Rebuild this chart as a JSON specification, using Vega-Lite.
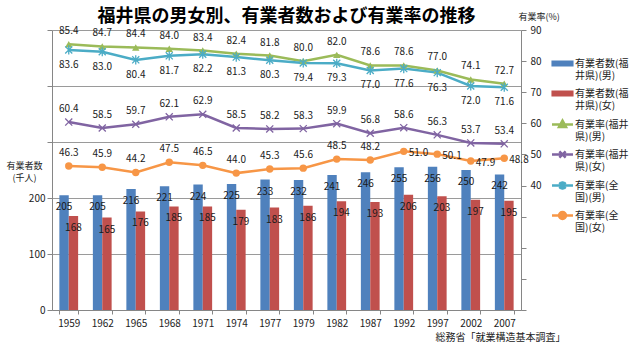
{
  "$schema": "https://vega.github.io/schema/vega-lite/v6.json",
  "width": 469,
  "height": 280,
  "autosize": {"type": "none"},
  "padding": {"left": 52, "top": 30, "right": 119, "bottom": 45},
  "background": "white",
  "title": {
    "text": "福井県の男女別、有業者数および有業率の推移",
    "font": "Noto Sans CJK JP",
    "fontSize": 18,
    "fontWeight": "bold",
    "color": "#000000",
    "anchor": "middle",
    "frame": "group",
    "offset": 4,
    "dy": 18
  },
  "config": {
    "view": {"stroke": null},
    "font": "Noto Sans CJK JP",
    "axis": {
      "labelFont": "Noto Sans CJK JP",
      "labelFontSize": 10,
      "labelColor": "#222222",
      "titleFont": "Noto Sans CJK JP",
      "titleFontWeight": "normal",
      "titleColor": "#222222",
      "domainColor": "#868686",
      "tickColor": "#868686",
      "gridColor": "#9a9a9a"
    }
  },
  "data": {
    "values": [
      {"year": 1959, "bm": 205, "bf": 168, "rm": 85.4, "rf": 60.4, "nm": 83.6, "nf": 46.3},
      {"year": 1962, "bm": 205, "bf": 165, "rm": 84.7, "rf": 58.5, "nm": 83.0, "nf": 45.9},
      {"year": 1965, "bm": 216, "bf": 176, "rm": 84.4, "rf": 59.7, "nm": 80.4, "nf": 44.2},
      {"year": 1968, "bm": 221, "bf": 185, "rm": 84.0, "rf": 62.1, "nm": 81.7, "nf": 47.5},
      {"year": 1971, "bm": 224, "bf": 185, "rm": 83.4, "rf": 62.9, "nm": 82.2, "nf": 46.5},
      {"year": 1974, "bm": 225, "bf": 179, "rm": 82.4, "rf": 58.5, "nm": 81.3, "nf": 44.0},
      {"year": 1977, "bm": 233, "bf": 183, "rm": 81.8, "rf": 58.2, "nm": 80.3, "nf": 45.3},
      {"year": 1979, "bm": 232, "bf": 186, "rm": 80.0, "rf": 58.3, "nm": 79.4, "nf": 45.6},
      {"year": 1982, "bm": 241, "bf": 194, "rm": 82.0, "rf": 59.9, "nm": 79.3, "nf": 48.5},
      {"year": 1987, "bm": 246, "bf": 193, "rm": 78.6, "rf": 56.8, "nm": 77.0, "nf": 48.2},
      {"year": 1992, "bm": 255, "bf": 206, "rm": 78.6, "rf": 58.6, "nm": 77.6, "nf": 51.0},
      {"year": 1997, "bm": 256, "bf": 203, "rm": 77.0, "rf": 56.3, "nm": 76.3, "nf": 50.1},
      {"year": 2002, "bm": 250, "bf": 197, "rm": 74.1, "rf": 53.7, "nm": 72.0, "nf": 47.9},
      {"year": 2007, "bm": 242, "bf": 195, "rm": 72.7, "rf": 53.4, "nm": 71.6, "nf": 48.8}
    ]
  },
  "transform": [{"fold": ["bm", "bf", "rm", "rf", "nm", "nf"], "as": ["key", "value"]}],
  "encoding": {
    "x": {
      "field": "year",
      "type": "ordinal",
      "scale": {"paddingInner": 0.44, "paddingOuter": 0.22},
      "axis": {
        "labelAngle": 0,
        "tickBand": "extent",
        "tickSize": 4,
        "labelPadding": 4,
        "grid": false,
        "title": "総務省「就業構造基本調査」",
        "titleFontSize": 10,
        "titleX": 513,
        "titleY": 27,
        "titleAlign": "right",
        "titleBaseline": "middle",
        "titleAnchor": "end"
      }
    }
  },
  "layer": [
    {
      "encoding": {
        "y": {
          "field": "value",
          "type": "quantitative",
          "scale": {"domain": [0, 500], "nice": false},
          "axis": {
            "orient": "left",
            "values": [0, 100, 200, 300, 400, 500],
            "labelExpr": "datum.value <= 200 ? datum.label : ''",
            "grid": true,
            "tickSize": 5,
            "title": ["有業者数", "(千人)"],
            "titleFontSize": 9,
            "titleAngle": 0,
            "titleAlign": "center",
            "titleBaseline": "middle",
            "titleLineHeight": 12,
            "titleX": -28,
            "titleY": 135
          }
        }
      },
      "layer": [
        {
          "transform": [{"filter": {"field": "key", "oneOf": ["bm", "bf"]}}],
          "mark": {"type": "bar"},
          "encoding": {
            "xOffset": {"field": "key", "type": "nominal", "scale": {"domain": ["bm", "bf"]}},
            "color": {
              "field": "key",
              "type": "nominal",
              "scale": {
                "domain": ["bm", "bf", "rm", "rf", "nm", "nf"],
                "range": ["#4F81BD", "#C0504D", "#9BBB59", "#8064A2", "#4BACC6", "#F79646"]
              }
            }
          }
        },
        {
          "transform": [{"filter": {"field": "key", "oneOf": ["bm", "bf"]}}],
          "mark": {"type": "text", "dy": 12, "fontSize": 10, "color": "#1a1a1a", "font": "Noto Sans CJK JP"},
          "encoding": {
            "xOffset": {"field": "key", "type": "nominal", "scale": {"domain": ["bm", "bf"]}},
            "text": {"field": "value", "type": "quantitative", "format": "d"}
          }
        },
        {
          "mark": {"type": "point", "filled": true, "opacity": 0},
          "encoding": {
            "color": {
              "field": "key",
              "type": "nominal",
              "legend": {
                "orient": "none",
                "legendX": 502,
                "legendY": 25,
                "title": null,
                "labelExpr": "datum.value === 'bm' ? ['有業者数(福','井県)(男)'] : datum.value === 'bf' ? ['有業者数(福','井県)(女)'] : datum.value === 'rm' ? ['有業率(福井','県)(男)'] : datum.value === 'rf' ? ['有業率(福井','県)(女)'] : datum.value === 'nm' ? ['有業率(全','国)(男)'] : ['有業率(全','国)(女)']",
                "labelFont": "Noto Sans CJK JP",
                "labelFontSize": 10,
                "labelColor": "#222222",
                "labelOffset": 4,
                "labelLimit": 200,
                "symbolSize": 196,
                "symbolOpacity": 1,
                "symbolStrokeWidth": 2.5,
                "rowPadding": 4
              }
            },
            "shape": {
              "field": "key",
              "type": "nominal",
              "scale": {
                "domain": ["bm", "bf", "rm", "rf", "nm", "nf"],
                "range": [
                  "M-1.4,-0.25H1.4V0.25H-1.4Z",
                  "M-1.4,-0.25H1.4V0.25H-1.4Z",
                  "M-1.5,0H1.5M0,-0.55L0.5,0.35L-0.5,0.35Z",
                  "M-1.5,0H1.5M-0.45,-0.45L0.45,0.45M-0.45,0.45L0.45,-0.45",
                  "M-1.5,0H1.5M-0.45,-0.45L0.45,0.45M-0.45,0.45L0.45,-0.45M0,-0.6V0.6",
                  "M-1.5,0H1.5M0.5,0A0.5,0.5,0,1,1,-0.5,0A0.5,0.5,0,1,1,0.5,0Z"
                ]
              },
              "legend": {
                "orient": "none",
                "legendX": 502,
                "legendY": 25,
                "title": null,
                "labelExpr": "datum.value === 'bm' ? ['有業者数(福','井県)(男)'] : datum.value === 'bf' ? ['有業者数(福','井県)(女)'] : datum.value === 'rm' ? ['有業率(福井','県)(男)'] : datum.value === 'rf' ? ['有業率(福井','県)(女)'] : datum.value === 'nm' ? ['有業率(全','国)(男)'] : ['有業率(全','国)(女)']",
                "labelFont": "Noto Sans CJK JP",
                "labelFontSize": 10,
                "labelColor": "#222222",
                "labelOffset": 4,
                "labelLimit": 200,
                "symbolSize": 196,
                "symbolOpacity": 1,
                "symbolStrokeWidth": 2.5,
                "rowPadding": 4
              }
            }
          }
        }
      ]
    },
    {
      "transform": [{"filter": {"field": "key", "oneOf": ["rm", "rf", "nm", "nf"]}}],
      "encoding": {
        "y": {
          "field": "value",
          "type": "quantitative",
          "scale": {"domain": [0, 90], "nice": false},
          "axis": {
            "orient": "right",
            "values": [0, 10, 20, 30, 40, 50, 60, 70, 80, 90],
            "labelExpr": "datum.value >= 40 ? datum.label : ''",
            "grid": false,
            "tickSize": 5,
            "labelPadding": 4,
            "title": "有業率(%)",
            "titleFontSize": 9,
            "titleAngle": 0,
            "titleAlign": "left",
            "titleBaseline": "middle",
            "titleX": -3,
            "titleY": -14
          }
        }
      },
      "layer": [
        {
          "mark": {"type": "line", "strokeWidth": 2.5},
          "encoding": {"color": {"field": "key", "type": "nominal"}}
        },
        {
          "transform": [{"filter": {"field": "key", "oneOf": ["rm", "nf"]}}],
          "mark": {"type": "point", "filled": true, "opacity": 1, "size": 55},
          "encoding": {
            "color": {"field": "key", "type": "nominal"},
            "shape": {
              "condition": {"test": "datum.key === 'rm'", "value": "triangle-up"},
              "value": "circle"
            }
          }
        },
        {
          "transform": [{"filter": {"field": "key", "oneOf": ["rf", "nm"]}}],
          "mark": {"type": "point", "filled": false, "opacity": 1, "size": 50, "strokeWidth": 1.3},
          "encoding": {
            "color": {"field": "key", "type": "nominal"},
            "shape": {
              "condition": {"test": "datum.key === 'rf'", "value": "M-1,-1L1,1M-1,1L1,-1"},
              "value": "M-1,-1L1,1M-1,1L1,-1M0,-1.3V1.3"
            }
          }
        },
        {
          "transform": [{"filter": "datum.key === 'rm' || datum.key === 'rf' || (datum.key === 'nf' && datum.year < 1992)"}],
          "mark": {"type": "text", "dy": -13, "fontSize": 10, "color": "#1a1a1a", "font": "Noto Sans CJK JP"},
          "encoding": {"text": {"field": "value", "type": "quantitative", "format": ".1f"}}
        },
        {
          "transform": [{"filter": "datum.key === 'nm'"}],
          "mark": {"type": "text", "dy": 15, "fontSize": 10, "color": "#1a1a1a", "font": "Noto Sans CJK JP"},
          "encoding": {"text": {"field": "value", "type": "quantitative", "format": ".1f"}}
        },
        {
          "transform": [{"filter": "datum.key === 'nf' && datum.year >= 1992"}],
          "mark": {"type": "text", "dx": 5, "dy": 2, "align": "left", "fontSize": 10, "color": "#1a1a1a", "font": "Noto Sans CJK JP"},
          "encoding": {"text": {"field": "value", "type": "quantitative", "format": ".1f"}}
        }
      ]
    }
  ],
  "resolve": {"scale": {"y": "independent"}}
}
